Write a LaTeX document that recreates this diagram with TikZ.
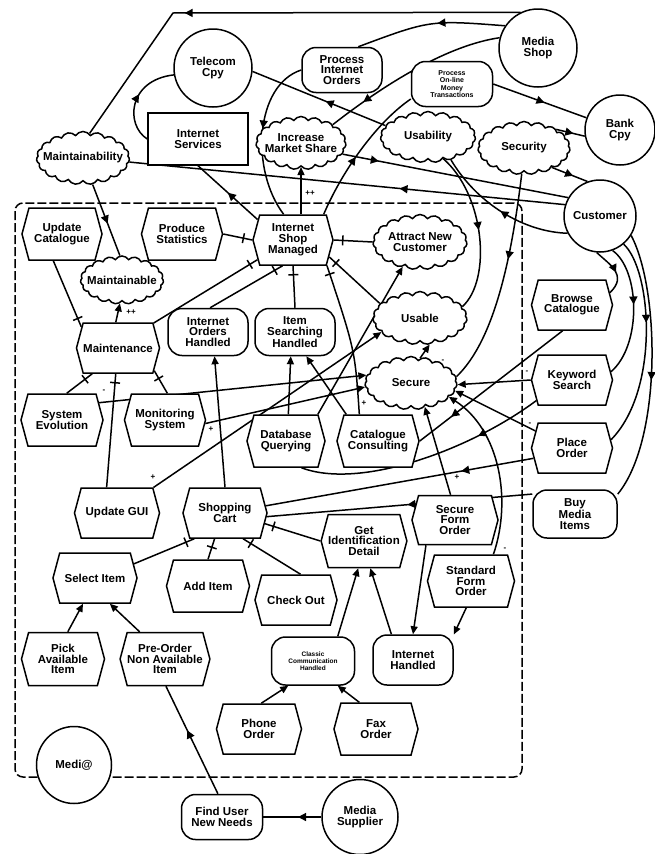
\documentclass[tikz,border=0pt]{standalone}
\usepackage{fontspec}
\setmainfont{Liberation Sans}
\usetikzlibrary{shapes.symbols,shapes.geometric,arrows.meta,decorations.markings}
\pgfdeclarelayer{bg}
\pgfsetlayers{bg,main}
\newcommand\diafont{\bfseries\fontsize{11.5}{10.5}\selectfont}
\tikzset{
 base/.style={draw, line width=1.5pt, fill=white, align=center, inner sep=0pt, font=\diafont},
 actor/.style={base, circle, minimum size=#1},
 goal/.style={base, rectangle, rounded corners=14pt},
 task/.style={base, signal, signal to=east and west, signal pointer angle=150},
 res/.style={base, rectangle},
 soft/.style={base, cloud, cloud puffs=19, cloud puff arc=115, cloud ignores aspect},
 txt/.style={font=\diafont, align=center, inner sep=0pt},
 ln/.style={line width=1.5pt},
 dep/.style={ln, decoration={markings, mark=at position #1 with {\arrow{Triangle[length=8pt,width=8pt]}}}, postaction={decorate}},
 me/.style={ln, -{Triangle[length=8pt,width=7pt]}},
 dec/.style={ln, decoration={markings, mark=at position -9pt with {\draw[line width=1.5pt] (0pt,-5pt) -- (0pt,5pt);}}, postaction={decorate}},
 lab/.style={font=\bfseries\fontsize{8}{8}\selectfont, inner sep=0pt},
}
\begin{document}
\begin{tikzpicture}[x=1pt,y=-1pt]
\useasboundingbox (0,0) rectangle (655,854);
\begin{pgfonlayer}{bg}
\draw[line width=1.5pt, dash pattern=on 9pt off 3pt, rounded corners=8pt] (15,203) rectangle (522,777);
\end{pgfonlayer}
% actors
\node[actor=78pt] (tel) at (213,68) {Telecom\\Cpy};
\node[actor=78pt] (mshop) at (538,48) {Media\\Shop};
\node[actor=70pt] (bank) at (620,130) {Bank\\Cpy};
\node[actor=72pt] (cust) at (600,216) {Customer};
\node[base, ellipse, minimum width=75pt, minimum height=77pt] (medi) at (74,765) {Medi@};
\node[base, ellipse, minimum width=76pt, minimum height=75pt] (msup) at (360,817) {Media\\Supplier};
% resource
\node[res, minimum width=100pt, minimum height=52pt] (isvc) at (198,139) {Internet\\Services};
% goals
\node[goal, minimum width=80pt, minimum height=45pt] (pio) at (342,70) {Process\\Internet\\Orders};
\node[goal, minimum width=81pt, minimum height=45pt, font=\bfseries\fontsize{7}{7.5}\selectfont] (pomt) at (452,84) {Process\\On-line\\Money\\Transactions};
\node[goal, minimum width=80pt, minimum height=47pt] (ioh) at (208,332) {Internet\\Orders\\Handled};
\node[goal, minimum width=80pt, minimum height=47pt] (ish) at (295,332) {Item\\Searching\\Handled};
\node[goal, minimum width=84pt, minimum height=48pt] (bmi) at (575,514) {Buy\\Media\\Items};
\node[goal, minimum width=83pt, minimum height=48pt, font=\bfseries\fontsize{6.5}{7}\selectfont] (cch) at (313,661) {Classic\\Communication\\Handled};
\node[goal, minimum width=80pt, minimum height=50pt] (ih) at (413,660) {Internet\\Handled};
\node[goal, minimum width=81pt, minimum height=45pt] (funn) at (222,817) {Find User\\New Needs};
% tasks
\node[task, minimum width=80pt, minimum height=52pt] (uc) at (62,234) {Update\\Catalogue};
\node[task, minimum width=81pt, minimum height=52pt] (ps) at (182,234) {Produce\\Statistics};
\node[task, minimum width=80pt, minimum height=50pt] (ism) at (293,240) {Internet\\Shop\\Managed};
\node[task, minimum width=83pt, minimum height=50pt] (mnt) at (118,348) {Maintenance};
\node[task, minimum width=82pt, minimum height=52pt] (se) at (62,420) {System\\Evolution};
\node[task, minimum width=81pt, minimum height=52pt] (ms) at (165,420) {Monitoring\\System};
\node[task, minimum width=78pt, minimum height=52pt] (dq) at (286,441) {Database\\Querying};
\node[task, minimum width=82pt, minimum height=52pt] (cc) at (378,441) {Catalogue\\Consulting};
\node[task, minimum width=81pt, minimum height=50pt] (bc) at (572,305) {Browse\\Catalogue};
\node[task, minimum width=81pt, minimum height=50pt] (ks) at (572,380) {Keyword\\Search};
\node[task, minimum width=81pt, minimum height=50pt] (po) at (572,448) {Place\\Order};
\node[task, minimum width=85pt, minimum height=50pt] (ugui) at (117,513) {Update GUI};
\node[task, minimum width=84pt, minimum height=50pt] (sc) at (225,513) {Shopping\\Cart};
\node[task, minimum width=84pt, minimum height=50pt] (si) at (95,578) {Select Item};
\node[task, minimum width=83pt, minimum height=52pt] (ai) at (208,586) {Add Item};
\node[task, minimum width=82pt, minimum height=50pt] (co) at (296,600) {Check Out};
\node[task, minimum width=83pt, minimum height=53pt] (pai) at (63,659) {Pick\\Available\\Item};
\node[task, minimum width=86pt, minimum height=53pt] (pona) at (165,659) {Pre-Order\\Non Available\\Item};
\node[task, minimum width=85pt, minimum height=53pt] (gid) at (364,541) {Get\\Identification\\Detail};
\node[task, minimum width=86pt, minimum height=49pt] (sfo) at (455,520) {Secure\\Form\\Order};
\node[task, minimum width=87pt, minimum height=52pt] (stfo) at (471,581) {Standard\\Form\\Order};
\node[task, minimum width=85pt, minimum height=50pt] (pho) at (259,729) {Phone\\Order};
\node[task, minimum width=84pt, minimum height=52pt] (fax) at (376,729) {Fax\\Order};
% softgoals
\node[soft, minimum width=93pt, minimum height=53pt, label={[txt]center:Maintainability}] (mty) at (83,158) {};
\node[soft, minimum width=90pt, minimum height=53pt, label={[txt]center:{Increase\\Market Share}}] (ims) at (301,143) {};
\node[soft, minimum width=95pt, minimum height=51pt, label={[txt]center:Usability}] (usab) at (428,137) {};
\node[soft, minimum width=92pt, minimum height=53pt, label={[txt]center:Security}] (secy) at (524,148) {};
\node[soft, minimum width=83pt, minimum height=48pt, label={[txt]center:Maintainable}] (mtb) at (122,280) {};
\node[soft, minimum width=94pt, minimum height=55pt, label={[txt]center:{Attract New\\Customer}}] (anc) at (420,242) {};
\node[soft, minimum width=94pt, minimum height=53pt, label={[txt]center:Usable}] (usbl) at (420,318) {};
\node[soft, minimum width=92pt, minimum height=53pt, label={[txt]center:Secure}] (secr) at (411,383) {};
\coordinate (tl) at (173,13);
\begin{pgfonlayer}{bg}
% dependencies
\draw[dep=0.68] (mshop.116) -- (tl) -- (mty.75);
\draw[dep=0.45] (mshop.146) .. controls (430,20) .. (pio.55);
\draw[dep=0.8] (mshop.165) .. controls (450,45) and (390,80) .. (ims.30);
\draw[dep=0.45] (ism.40) .. controls (345,165) and (380,120) .. (pomt.200);
\draw[dep=0.55] (pomt.east) -- (bank.160);
\draw[dep=0.45] (pio.west) .. controls (255,85) and (250,170) .. (ism.110);
\draw[dep=0.5] (ism.150) -- (isvc.south);
\draw[dep=0.55] (isvc.west) .. controls (125,125) and (128,80) .. (tel.190);
\draw[dep=0.45] (usab.165) -- (tel.-5);
\draw[me] (ims.south |- ism.north) -- (ims.south);
\node[lab] at (310,193) {++};
\draw[dep=0.55] (mty.-70) -- (mtb.95);
\draw[dep=0.38] (cust.162) -- (mty.-5);
\draw[dep=0.16] (ims.-15) -- (cust.150);
\draw[dep=0.5] (usab.-55) .. controls (485,195) and (492,280) .. (usbl.15);
\draw[dep=0.5] (cust.208) .. controls (525,232) and (478,205) .. (usab.-45);
\draw[dep=0.4] (secy.-95) .. controls (512,255) and (495,340) .. (secr.8);
\draw[dep=0.6] (secy.-35) -- (cust.110);
\draw[dep=0.6] (secy.30) -- (bank.190);
\draw[dep=0.55] (cust.-95) .. controls (610,265) and (628,275) .. (bc.18);
\draw[dep=0.45] (cust.-70) .. controls (640,270) and (642,345) .. (ks.12);
\draw[dep=0.4] (cust.-50) .. controls (652,270) and (660,390) .. (po.12);
\draw[dep=0.55] (cust.-32) .. controls (660,290) and (662,440) .. (bmi.25);
\draw[dep=0.78] (bc.-110) -- (cc.east);
\draw[dep=0.27] (ks.-150) .. controls (470,450) and (360,490) .. (dq.-60);
\draw[dep=0.27] (po.-165) -- (sc.10);
\draw[dep=0.47] (bmi.155) -- (sc.-5);
\draw[dep=0.59] (funn.100) -- (pona.-88);
\draw[dep=0.4] (msup.west) -- (funn.east);
% contributions
\draw[me] (ks.west) -- (secr.-2);
\node[lab] at (527,372) {-};
\draw[me] (po.155) -- (secr.-10);
\node[lab] at (530,424) {-};
\draw[me] (sfo.100) -- (secr.-60);
\node[lab] at (457,477) {+};
\draw[me] (stfo.50) .. controls (512,500) and (500,430) .. (secr.-20);
\node[lab] at (505,549) {-};
\draw[me] (ugui.35) -- (usbl.200);
\node[lab] at (153,477) {+};
\draw[me] (se.25) -- (secr.170);
\node[lab] at (104,391) {-};
\draw[me] (ms.-5) -- (secr.185);
\node[lab] at (211,429) {+};
\draw[me] (mnt.95) -- (mtb.-95);
\node[lab] at (131,312) {++};
\draw[me] (secr.70) -- (usbl.-70);
\node[lab] at (443,361) {-};
\node[lab] at (364,403) {+};
% means-end
\draw[me] (sfo.-139) -- (ih.north);
\draw[me] (stfo.-100) -- (ih.32);
\draw[me] (cch.45) -- (gid.-102);
\draw[me] (ih.130) -- (gid.-77);
\draw[me] (pho.85) -- (cch.-135);
\draw[me] (fax.122) -- (cch.-45);
\draw[me] (sc.north) -- (ioh.-75);
\draw[me] (pai.80) -- (si.-115);
\draw[me] (pona.133) -- (si.-60);
\draw[me] (dq.85) -- (ish.-100);
\draw[me] (cc.140) -- (ish.-65);
\draw[me] (dq.40) -- (anc.-125);
% decompositions
\draw[dec] (gid.west) -- (sc.-15);
\draw[dec] (si.20) -- (sc.-140);
\draw[dec] (ai.north) -- (sc.-112);
\draw[dec] (co.80) -- (sc.-55);
\draw[dec] (ugui.112) -- (mnt.-95);
\draw[dec] (ms.85) -- (mnt.-32);
\draw[dec] (se.80) -- (mnt.-135);
\draw[dec] (uc.-108) -- (mnt.150);
\draw[dec] (mnt.35) -- (ism.-151);
\draw[dec] (ps.east) -- (ism.west);
\draw[dec] (ioh.85) -- (ism.-112);
\draw[dec] (ish.north) -- (ism.south);
\draw[dec] (anc.west) -- (ism.east);
\draw[dec] (usbl.160) -- (ism.-25);
\draw[dec] (cc.125) .. controls (355,350) .. (ism.-37);
\end{pgfonlayer}
\end{tikzpicture}
\end{document}
